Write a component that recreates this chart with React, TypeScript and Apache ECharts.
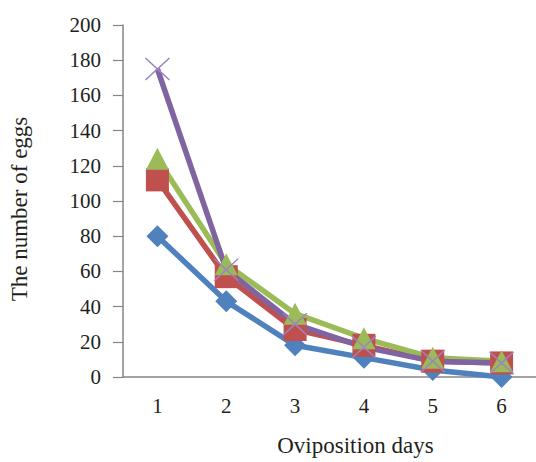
import React, { useEffect, useRef } from "react";
import * as echarts from "echarts";

const days = ["1", "2", "3", "4", "5", "6"];
const seriesA = [80, 43, 18, 11, 4, 0];
const seriesB = [112, 57, 27, 18, 9, 8];
const seriesC = [124, 64, 36, 22, 11, 9];
const seriesD = [175, 61, 30, 17, 9, 8];
const yTicks = { min: 0, max: 200, interval: 20 };

const xPath =
  "path://M0,1L1,0L12.5,11.3L24,0L25,1L13.7,12.5L25,24L24,25L12.5,13.7L1,25L0,24L11.3,12.5Z";

const FONT = "Liberation Serif";
const TEXT = "#231f20";
const AXIS = "#868686";

export default function App() {
  const ref = useRef<HTMLDivElement>(null);
  useEffect(() => {
    if (!ref.current) return;
    const chart = echarts.init(ref.current, undefined, { renderer: "svg" });
    const mk = (name: string, data: number[], color: string, symbol: string, size: number | number[], symColor?: string) => ({
      name,
      type: "line",
      data,
      symbol,
      symbolSize: size,
      lineStyle: { color, width: 5.5 },
      itemStyle: { color: symColor || color },
      emphasis: { disabled: true },
    });
    chart.setOption({
      animation: false,
      grid: { left: 119, top: 25, width: 420, height: 357, containLabel: false },
      xAxis: {
        type: "category",
        data: days,
        boundaryGap: true,
        axisLine: { lineStyle: { color: AXIS, width: 1.5 } },
        axisTick: { show: false },
        axisLabel: { color: TEXT, fontFamily: FONT, fontSize: 21, margin: 18 },
        name: "Oviposition days",
        nameLocation: "middle",
        nameGap: 57,
        nameTextStyle: { color: TEXT, fontFamily: FONT, fontSize: 23, padding: [0, 0, 0, 52] },
      },
      yAxis: {
        type: "value",
        min: yTicks.min,
        max: yTicks.max,
        interval: yTicks.interval,
        splitLine: { show: false },
        axisLine: { show: true, lineStyle: { color: AXIS, width: 1.5 } },
        axisTick: { show: true, inside: false, length: 10, lineStyle: { color: AXIS, width: 1.2 } },
        axisLabel: { color: TEXT, fontFamily: FONT, fontSize: 21, margin: 22 },
        name: "The number of eggs",
        nameLocation: "middle",
        nameRotate: 90,
        nameGap: 92,
        nameTextStyle: { color: TEXT, fontFamily: FONT, fontSize: 23, padding: [0, 16, 0, 0] },
      },
      series: [
        mk("A", seriesA, "#4f81bd", "diamond", [22, 22]),
        mk("B", seriesB, "#c0504d", "rect", [23, 23]),
        mk("C", seriesC, "#9bbb59", "triangle", [23, 22]),
        mk("D", seriesD, "#8064a2", xPath, [25, 23], "#9a86c0"),
      ],
    });
    return () => chart.dispose();
  }, []);
  return (
    <div
      ref={ref}
      style={{ position: "fixed", left: 0, top: 0, width: 536, height: 462, background: "#fff" }}
    />
  );
}
